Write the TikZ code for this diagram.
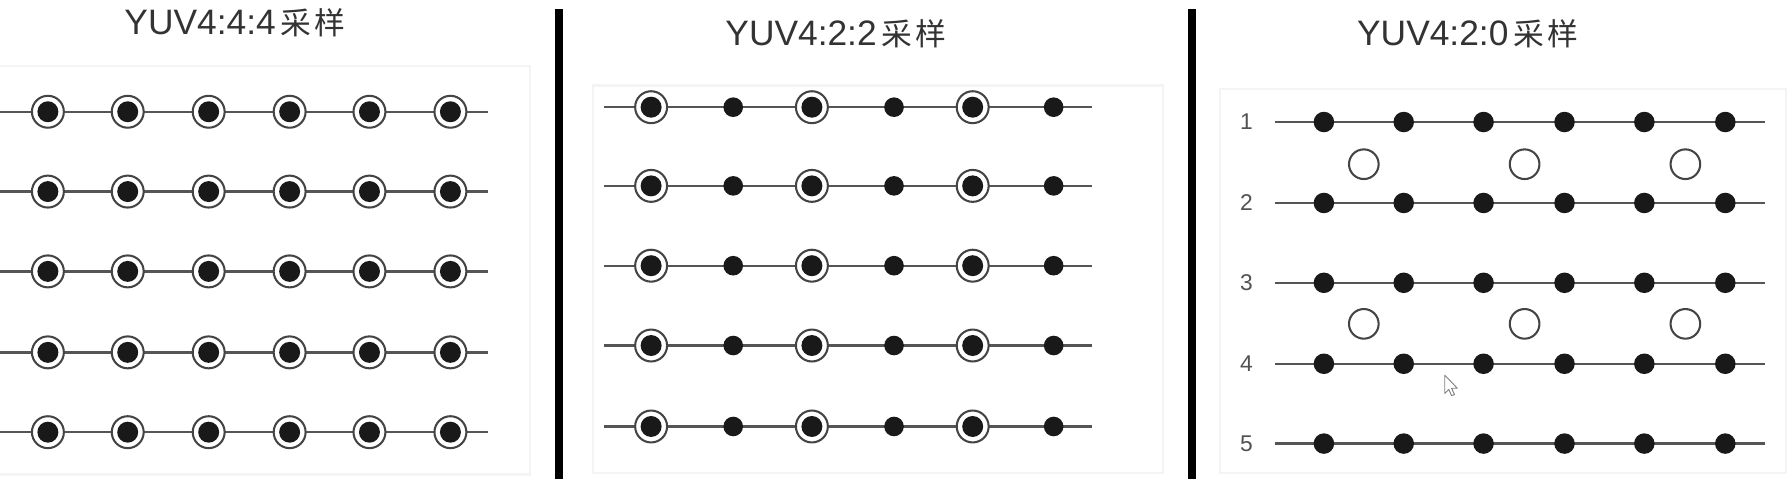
\documentclass[tikz,border=0pt]{standalone}
\usepackage{fontspec}
\setmainfont{Liberation Sans}
\newfontfamily\cjk{Noto Sans CJK SC}
\definecolor{linegray}{HTML}{555555}
\definecolor{ringgray}{HTML}{444444}
\definecolor{txtgray}{HTML}{333333}
\definecolor{boxgray}{HTML}{F4F4F4}
\newcommand{\cyj}{{\cjk\fontsize{13.5}{16}\selectfont\hspace{2pt}采\hspace{1.5pt}样}}
\tikzset{
  gridline/.style={draw=linegray, line width=1pt},
  lumachroma/.style={circle, draw=ringgray, line width=0.9pt, fill=white, minimum size=14pt, inner sep=0pt,
    path picture={\fill[black!90] (path picture bounding box.center) circle (4.6pt);}},
  luma/.style={circle, fill=black!90, minimum size=8.6pt, inner sep=0pt},
  chroma/.style={circle, draw=ringgray, line width=0.9pt, fill=white, minimum size=13pt, inner sep=0pt},
  title/.style={anchor=base, text=txtgray, font=\fontsize{15.5}{18}\selectfont, inner sep=0pt},
  rownum/.style={text=txtgray!85, font=\fontsize{10}{12}\selectfont, inner sep=0pt},
  divider/.style={draw=black, line width=3.5pt},
  panelbox/.style={draw=boxgray, line width=1pt}
}
\begin{document}
\begin{tikzpicture}[x=0.5pt, y=-0.5pt]
\useasboundingbox (0,0) rectangle (1568,424);
\fill[white] (0,0) rectangle (1568,424);
% faint panel frames
\draw[panelbox] (0,58) -- (465,58) -- (465,416) -- (0,416);
\draw[panelbox] (520,75) rectangle (1020,415);
\draw[panelbox] (1070,78) rectangle (1566,415);
% dividers
\coordinate (d1t) at (490,8); \coordinate (d1b) at (490,420);
\coordinate (d2t) at (1045,8); \coordinate (d2b) at (1045,420);
\draw[divider] (d1t) -- (d1b);
\draw[divider] (d2t) -- (d2b);
% titles
\node[title] (t1) at (206,30) {YUV4:4:4\cyj};
\node[title] (t2) at (733,40) {YUV4:2:2\cyj};
\node[title] (t3) at (1287,40) {YUV4:2:0\cyj};
% panel 1: 4:4:4
\foreach \r/\y in {1/98,2/168,3/238,4/309,5/379}{
  \coordinate (a\r s) at (0,\y);
  \coordinate (a\r e) at (428,\y);
  \draw[gridline] (a\r s) -- (a\r e);
  \foreach \c/\x in {1/42,2/112,3/183,4/254,5/324,6/395}{
    \node[lumachroma] (a\r-\c) at (\x,\y) {};
  }
}
% panel 2: 4:2:2
\foreach \r/\y in {1/94,2/163,3/233,4/303,5/374}{
  \coordinate (b\r s) at (530,\y);
  \coordinate (b\r e) at (958,\y);
  \draw[gridline] (b\r s) -- (b\r e);
  \foreach \c/\x in {1/571,3/712,5/853}{
    \node[lumachroma] (b\r-\c) at (\x,\y) {};
  }
  \foreach \c/\x in {2/643,4/784,6/924}{
    \node[luma] (b\r-\c) at (\x,\y) {};
  }
}
% panel 3: 4:2:0
\foreach \r/\y in {1/107,2/178,3/248,4/319,5/389}{
  \node[rownum] (n\r) at (1093,\y) {\r};
  \coordinate (c\r s) at (1118,\y);
  \coordinate (c\r e) at (1548,\y);
  \draw[gridline] (c\r s) -- (c\r e);
  \foreach \c/\x in {1/1161,2/1231,3/1301,4/1372,5/1442,6/1513}{
    \node[luma, minimum size=9pt] (c\r-\c) at (\x,\y) {};
  }
}
\foreach \r/\y in {1/144,2/284}{
  \foreach \c/\x in {1/1196,2/1337,3/1478}{
    \node[chroma] (o\r-\c) at (\x,\y) {};
  }
}
% mouse pointer
\draw[draw=gray, fill=white, line width=0.4pt, line join=round]
  (1267,329) -- (1267,345) -- (1270.5,341.5) -- (1273,347) -- (1275.5,346) -- (1273,340.5) -- (1278,340.5) -- cycle;
\end{tikzpicture}
\end{document}
